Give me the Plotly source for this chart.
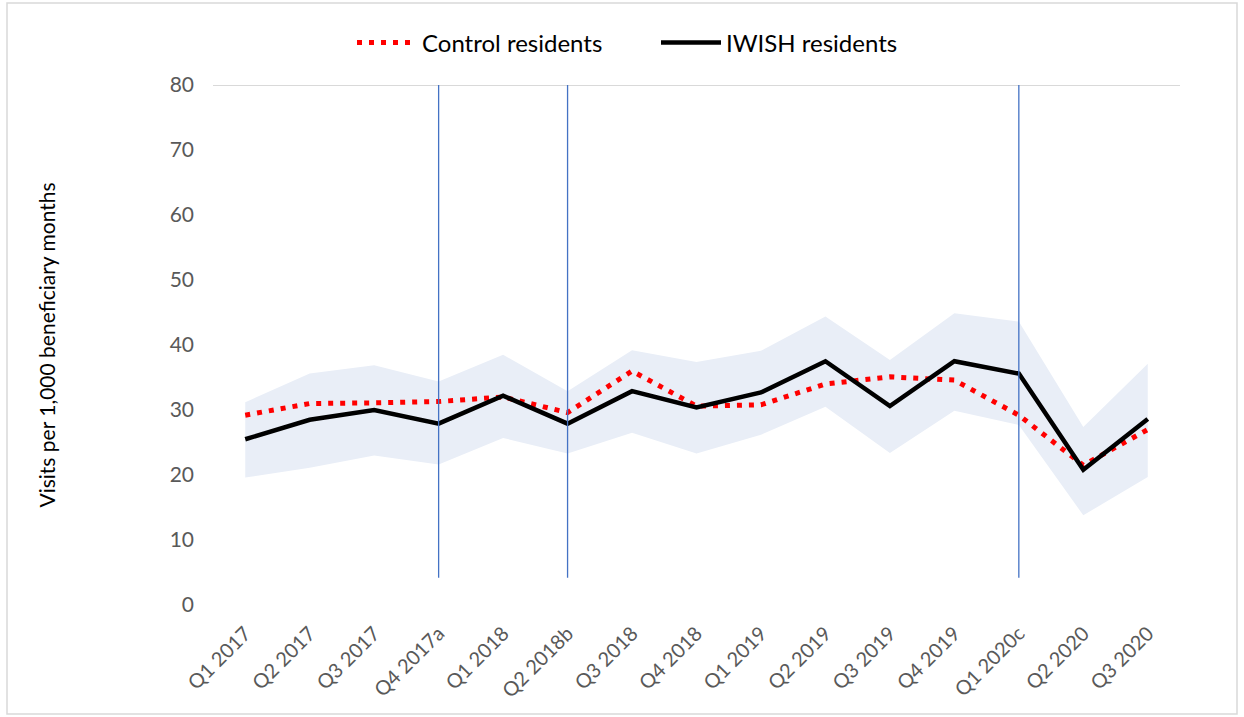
import plotly.graph_objects as go

# Quarterly visit rates per 1,000 beneficiary months
quarters = ["Q1 2017", "Q2 2017", "Q3 2017", "Q4 2017a", "Q1 2018", "Q2 2018b",
            "Q3 2018", "Q4 2018", "Q1 2019", "Q2 2019", "Q3 2019", "Q4 2019",
            "Q1 2020c", "Q2 2020", "Q3 2020"]

control = [29.2, 31.0, 31.1, 31.3, 32.0, 29.6, 36.0, 30.6, 30.8, 34.0,
           35.1, 34.6, 29.2, 21.5, 27.0]
iwish = [25.5, 28.5, 30.0, 27.9, 32.2, 27.9, 32.9, 30.4, 32.7, 37.5,
         30.6, 37.5, 35.6, 20.8, 28.6]

# Confidence band around the IWISH series
band_upper = [31.2, 35.6, 36.9, 34.4, 38.5, 32.9, 39.2, 37.4, 39.1, 44.4,
              37.7, 44.9, 43.6, 27.4, 37.1]
band_lower = [19.6, 21.1, 23.0, 21.6, 25.7, 23.3, 26.5, 23.3, 26.2, 30.5,
              23.4, 29.9, 27.7, 13.8, 19.7]

# Quarters marked with a vertical reference line
marked_quarters = ["Q4 2017a", "Q2 2018b", "Q1 2020c"]

FONT = "Lato"
TEXT_GREY = "#595959"

fig = go.Figure()

fig.add_trace(go.Scatter(
    x=quarters, y=band_lower, mode="lines", line=dict(width=0),
    showlegend=False, hoverinfo="skip"))
fig.add_trace(go.Scatter(
    x=quarters, y=band_upper, mode="lines", line=dict(width=0),
    fill="tonexty", fillcolor="rgb(233,238,247)",
    showlegend=False, hoverinfo="skip"))

fig.add_trace(go.Scatter(
    x=quarters, y=control, mode="lines", name="Control residents",
    line=dict(color="#FF0000", width=5, dash="5px,7px")))
fig.add_trace(go.Scatter(
    x=quarters, y=iwish, mode="lines", name="IWISH residents",
    line=dict(color="#000000", width=4.5)))

# Top gridline at 80
fig.add_shape(type="line", xref="paper", yref="y", x0=0, x1=1, y0=80, y1=80,
              line=dict(color="#D9D9D9", width=2), layer="below")

# Vertical reference lines
for q in marked_quarters:
    fig.add_shape(type="line", xref="x", yref="y", x0=q, x1=q, y0=4.2, y1=80,
                  line=dict(color="#4472C4", width=1.3))

# Outer chart border
fig.add_shape(type="rect", xref="paper", yref="paper",
              x0=-206 / 967, x1=(1237 - 213) / 967,
              y0=-(714 - 605) / 520, y1=(605 - 3) / 520,
              line=dict(color="#D9D9D9", width=1.5))

fig.update_layout(
    width=1244, height=717,
    margin=dict(l=213, r=64, t=85, b=112, autoexpand=False),
    paper_bgcolor="white", plot_bgcolor="white",
    font=dict(family=FONT, color=TEXT_GREY),
    legend=dict(orientation="h", x=(352 - 213) / 967, xanchor="left",
                y=1.0 + 42 / 520, yanchor="middle", traceorder="normal",
                font=dict(family=FONT, size=24, color="#000000"),
                itemwidth=60, entrywidth=229, entrywidthmode="pixels"),
    showlegend=True,
)

fig.update_xaxes(
    type="category", categoryorder="array", categoryarray=quarters,
    range=[-0.5, len(quarters) - 0.5],
    showgrid=False, zeroline=False, showline=False, ticks="",
    tickangle=-45, tickfont=dict(family=FONT, size=20, color=TEXT_GREY),
    ticklabelstandoff=12,
    automargin=False,
)
fig.update_yaxes(
    range=[0, 80], tickvals=list(range(0, 81, 10)),
    showgrid=False, zeroline=False, showline=False, ticks="",
    tickfont=dict(family=FONT, size=21, color=TEXT_GREY),
    ticklabelstandoff=18,
    title=dict(text="Visits per 1,000 beneficiary months",
               font=dict(family=FONT, size=21, color="#000000"), standoff=108),
    automargin=False,
)

fig.write_html("out.html")
